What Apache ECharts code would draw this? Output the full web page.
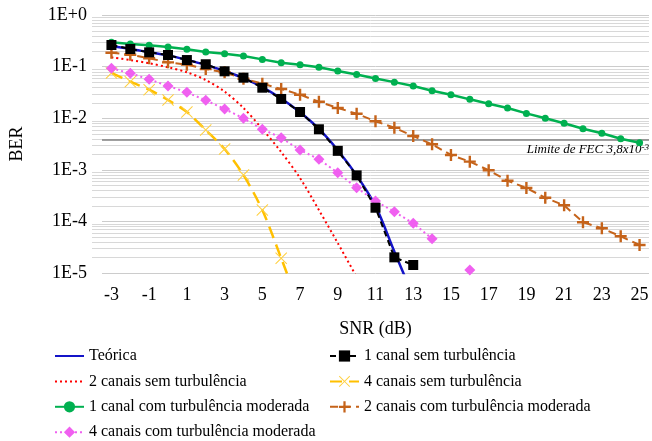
<!DOCTYPE html>
<html>
<head>
<meta charset="utf-8">
<script src="https://cdn.jsdelivr.net/npm/echarts@6.0.0/dist/echarts.min.js"></script>
<style>html,body{margin:0;padding:0;background:#fff;}#c{width:652px;height:441px;}</style>
</head>
<body>
<div id="c"></div>
<script>
var snr = ['-3','-2','-1','0','1','2','3','4','5','6','7','8','9','10','11','12','13','14','15','16','17','18','19','20','21','22','23','24','25'];
var teorica = [0.25,0.22,0.19,0.165,0.135,0.108,0.082,0.060,0.040,0.024,0.0130,0.0062,0.0024,0.00078,0.00020,0.000026,0.0000035];
var c1sem = [0.262,0.219,0.189,0.168,0.134,0.111,0.0811,0.0610,0.0390,0.0236,0.0132,0.0061,0.00233,0.00078,0.000184,0.0000201,0.0000143];
var c2sem = [0.151,0.134,0.116,0.097,0.0776,0.055,0.0327,0.0158,0.00617,0.00221,0.00069,0.000166,0.000038,0.0000084];
var c4sem = [0.0752,0.0510,0.0357,0.0225,0.0132,0.0059,0.00253,0.00079,0.000166,0.0000193,0.0000021];
var c1com = [0.296,0.274,0.259,0.240,0.216,0.192,0.178,0.160,0.138,0.119,0.109,0.097,0.082,0.070,0.059,0.050,0.042,0.034,0.0285,0.0232,0.0191,0.0158,0.0124,0.00995,0.00796,0.00626,0.00510,0.00401,0.00335];
var c2com = [0.186,0.170,0.145,0.121,0.109,0.0898,0.0776,0.0583,0.0466,0.0368,0.0285,0.0209,0.0158,0.0122,0.00871,0.00655,0.00452,0.00312,0.00194,0.00144,0.00098,0.000615,0.000444,0.000288,0.000205,0.0000966,0.0000735,0.0000514,0.0000349];
var c4com = [0.0927,0.0742,0.0567,0.0421,0.0318,0.0222,0.0151,0.00995,0.00610,0.00419,0.00242,0.00160,0.000875,0.000450,0.000248,0.000154,0.0000919,0.0000462,null,0.0000114];
var fecLimit = 0.0038;
var names = ['Teórica','1 canal sem turbulência','2 canais sem turbulência','4 canais sem turbulência','1 canal com turbulência moderada','2 canais com turbulência moderada','4 canais com turbulência moderada'];

var FONT = 'Liberation Serif';
var plusPath = 'path://M4,0H6V4H10V6H6V10H4V6H0V4H4Z';
var xPath = 'path://M0,0.6L0.6,0L5,4.4L9.4,0L10,0.6L5.6,5L10,9.4L9.4,10L5,5.6L0.6,10L0,9.4L4.4,5Z';

// minor log grid values (2..9 x each decade)
var minorGrid = [];
for (var d = -5; d < 0; d++) {
  for (var k = 2; k <= 9; k++) minorGrid.push(k * Math.pow(10, d));
}

var GRID = {left: 92, right: 3, top: 15, bottom: 168};
var W = 652, H = 441;
var chart = echarts.init(document.getElementById('c'), null, {renderer: 'canvas', width: W, height: H});
var legendText = {fontFamily: FONT, fontSize: 16, color: '#000', lineHeight: 16};
var noSym = {opacity: 0};
chart.setOption({
  animation: false,
  backgroundColor: '#fff',
  textStyle: {fontFamily: FONT},
  grid: GRID,
  legend: [
    {data: [{name: names[0], itemStyle: noSym}, {name: names[2], itemStyle: noSym}, names[4], names[6]],
     orient: 'vertical', left: 54, top: 348, padding: 0, height: 100,
     itemWidth: 29, itemHeight: 14, itemGap: 9.4, textStyle: legendText, selectedMode: false},
    {data: [names[1], names[3], names[5]], orient: 'vertical', left: 329, top: 348, padding: 0, height: 100,
     itemWidth: 29, itemHeight: 14, itemGap: 9.4, textStyle: legendText, selectedMode: false}
  ],
  xAxis: {
    type: 'category', data: snr, boundaryGap: true,
    name: 'SNR (dB)', nameLocation: 'middle', nameGap: 47,
    nameTextStyle: {fontFamily: FONT, fontSize: 18, color: '#000'},
    axisLine: {show: false}, axisTick: {show: false},
    axisLabel: {interval: 1, fontFamily: FONT, fontSize: 18, color: '#000', margin: 13},
    splitLine: {show: false}
  },
  yAxis: {
    type: 'log', logBase: 10, min: 1e-5, max: 1,
    name: 'BER', nameLocation: 'middle', nameGap: 76, nameRotate: 90,
    nameTextStyle: {fontFamily: FONT, fontSize: 18, color: '#000'},
    axisLine: {show: false}, axisTick: {show: false},
    axisLabel: {fontFamily: FONT, fontSize: 18, color: '#000', margin: 15,
      formatter: function (v) { var e = Math.round(Math.log10(v)); return '1E' + (e >= 0 ? '+' : '-') + Math.abs(e); }},
    splitLine: {show: true, lineStyle: {color: '#CCCCCC', width: 1}}
  },
  series: [
    {type: 'line', name: names[0], data: teorica, smooth: 0.3, symbol: 'none', z: 2,
     lineStyle: {color: '#1414C8', width: 2.5}, itemStyle: {color: '#1414C8'}},
    {type: 'line', name: names[2], data: c2sem, smooth: 0.3, symbol: 'none', z: 2,
     lineStyle: {color: '#FF0000', width: 2, type: [2, 3]}, itemStyle: {color: '#FF0000'}},
    {type: 'line', name: names[3], data: c4sem, smooth: 0.3, symbol: xPath, symbolSize: 12, z: 3,
     lineStyle: {color: '#FFC000', width: 2.5, type: [12, 7]}, itemStyle: {color: '#FFD040'}},
    {type: 'line', name: names[4], data: c1com, symbol: 'circle', symbolSize: 7, z: 3,
     lineStyle: {color: '#00B050', width: 2.5}, itemStyle: {color: '#00B050'},
     markLine: {silent: true, z: 1, precision: 12, symbol: ['none','none'], animation: false,
       lineStyle: {color: '#808080', width: 1.5, type: 'solid'},
       label: {show: true, position: 'insideEndBottom', distance: [0, 3],
         formatter: '{a|Limite de FEC 3,8x10}{b|-3}',
         rich: {a: {fontFamily: FONT, fontStyle: 'italic', fontSize: 13, color: '#000', lineHeight: 14},
                b: {fontFamily: FONT, fontStyle: 'italic', fontSize: 9, color: '#000', verticalAlign: 'top', lineHeight: 14}}},
       data: [{yAxis: fecLimit}]}},
    {type: 'line', name: names[5], data: c2com, symbol: plusPath, symbolSize: 12, z: 3,
     lineStyle: {color: '#C5631A', width: 2, type: [8, 5]}, itemStyle: {color: '#C5631A'}},
    {type: 'line', name: names[6], data: c4com, symbol: 'diamond', symbolSize: 11, connectNulls: false, z: 3,
     lineStyle: {color: '#F060F0', width: 2, type: [2, 3]}, itemStyle: {color: '#F060F0'}},
    {type: 'line', name: names[1], data: c1sem, symbol: 'rect', symbolSize: 10, z: 4,
     lineStyle: {color: '#000', width: 2, type: [6, 4]}, itemStyle: {color: '#000'}}
  ]
});

// minor gridlines positioned through the y axis scale
var x1 = GRID.left, x2 = W - GRID.right;
var lines = [];
minorGrid.forEach(function (v) {
  var y = chart.convertToPixel({yAxisIndex: 0}, v);
  if (typeof y === 'number' && isFinite(y)) {
    y = Math.round(y) + 0.5;
    lines.push({type: 'line', silent: true, z: 0, zlevel: 0,
      shape: {x1: x1, y1: y, x2: x2, y2: y},
      style: {stroke: '#D8D8D8', lineWidth: 1}});
  }
});
chart.setOption({graphic: {elements: lines}});
</script>
</body>
</html>
